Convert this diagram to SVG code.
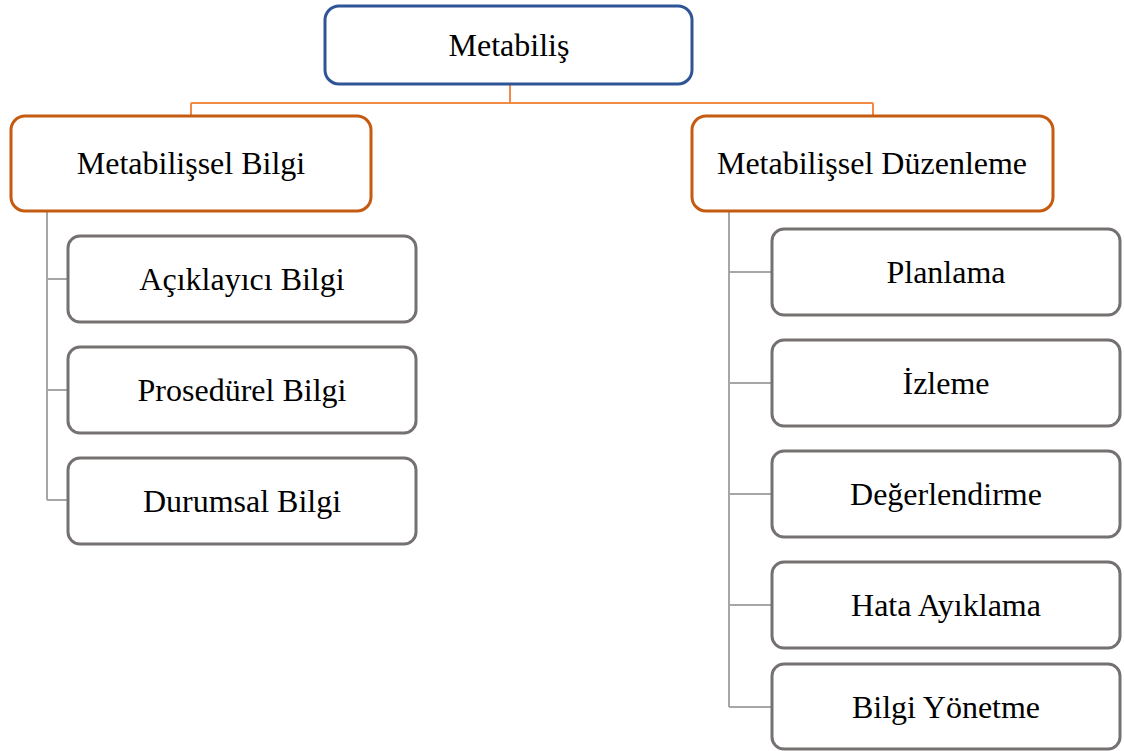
<svg xmlns="http://www.w3.org/2000/svg" width="1124" height="751" viewBox="0 0 1124 751">
<style>
.t{font-family:"Liberation Serif","Times New Roman",serif;font-size:32px;fill:#000;text-anchor:middle}
.root{fill:#fff;stroke:#2f5597;stroke-width:3}
.mid{fill:#fff;stroke:#c55a11;stroke-width:3}
.leaf{fill:#fff;stroke:#767171;stroke-width:3}
.co{fill:none;stroke:#f08a45;stroke-width:2}
.cg{fill:none;stroke:#a6a6a6;stroke-width:2}
</style>
<rect width="1124" height="751" fill="#fff"/>
<g id="connectors">
<path class="co" d="M510 84V103M191 103H873M191 103V117M873 103V117"/>
<path class="cg" d="M47 211V500M47 279H69M47 390H69M47 500H69"/>
<path class="cg" d="M729 211V707M729 272H773M729 383H773M729 494H773M729 605H773M729 707H773"/>
</g>
<g id="n-root"><rect class="root" x="325" y="6" width="367" height="78" rx="14"/><text class="t" x="509" y="56">Metabiliş</text></g>
<g id="n-bilgi"><rect class="mid" x="11" y="116" width="360" height="95" rx="14"/><text class="t" x="191" y="174">Metabilişsel Bilgi</text></g>
<g id="n-duzenleme"><rect class="mid" x="692" y="116" width="361" height="95" rx="14"/><text class="t" x="872" y="174">Metabilişsel Düzenleme</text></g>
<g id="n-aciklayici"><rect class="leaf" x="68" y="236" width="348" height="86" rx="12"/><text class="t" x="242" y="290">Açıklayıcı Bilgi</text></g>
<g id="n-prosedurel"><rect class="leaf" x="68" y="347" width="348" height="86" rx="12"/><text class="t" x="242" y="401">Prosedürel Bilgi</text></g>
<g id="n-durumsal"><rect class="leaf" x="68" y="458" width="348" height="86" rx="12"/><text class="t" x="242" y="512">Durumsal Bilgi</text></g>
<g id="n-planlama"><rect class="leaf" x="772" y="229" width="348" height="86" rx="12"/><text class="t" x="946" y="283">Planlama</text></g>
<g id="n-izleme"><rect class="leaf" x="772" y="340" width="348" height="86" rx="12"/><text class="t" x="946" y="394">İzleme</text></g>
<g id="n-degerlendirme"><rect class="leaf" x="772" y="451" width="348" height="86" rx="12"/><text class="t" x="946" y="505">Değerlendirme</text></g>
<g id="n-hata"><rect class="leaf" x="772" y="562" width="348" height="86" rx="12"/><text class="t" x="946" y="616">Hata Ayıklama</text></g>
<g id="n-yonetme"><rect class="leaf" x="772" y="664" width="348" height="85" rx="12"/><text class="t" x="946" y="718">Bilgi Yönetme</text></g>
</svg>
